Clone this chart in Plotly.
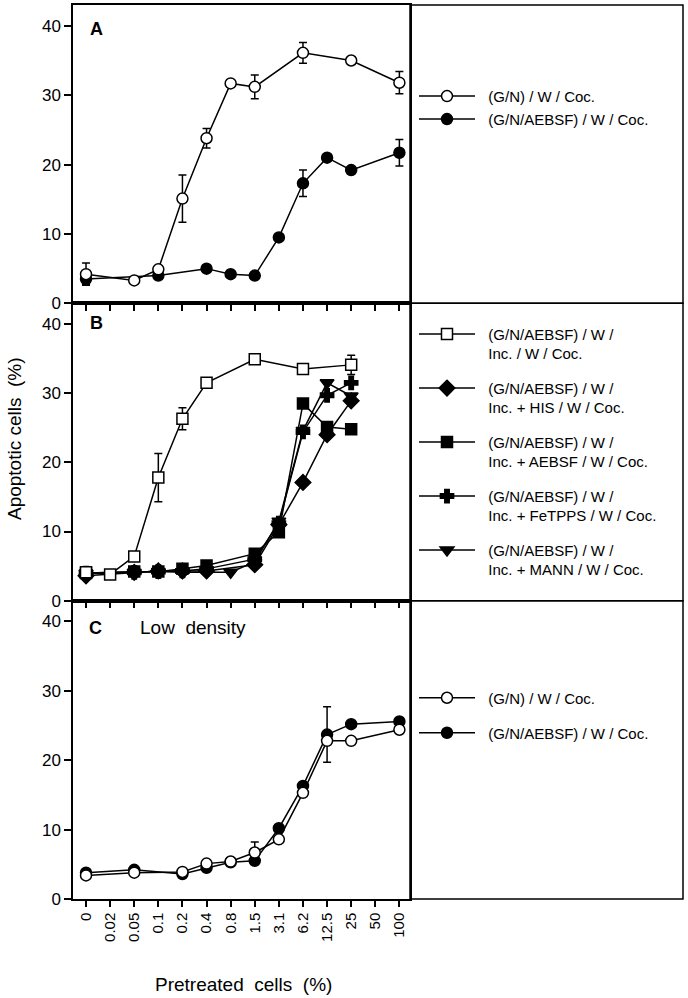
import plotly.graph_objects as go

# ---------------- data ----------------
cats = ["0", "0.02", "0.05", "0.1", "0.2", "0.4", "0.8", "1.5", "3.1", "6.2", "12.5", "25", "50", "100"]
y_ticks = [0, 10, 20, 30, 40]

# Panel A
a_open_x = ["0", "0.05", "0.1", "0.2", "0.4", "0.8", "1.5", "6.2", "25", "100"]
a_open_y = [4.2, 3.3, 4.9, 15.1, 23.8, 31.7, 31.2, 36.1, 35.0, 31.8]
a_open_err = [1.6, 0, 0, 3.4, 1.4, 0, 1.7, 1.5, 0, 1.6]
a_fill_x = ["0", "0.1", "0.4", "0.8", "1.5", "3.1", "6.2", "12.5", "25", "100"]
a_fill_y = [3.5, 4.0, 5.0, 4.2, 4.0, 9.5, 17.3, 21.0, 19.2, 21.7]
a_fill_err = [0.8, 0, 0, 0, 0, 0, 1.9, 0, 0, 1.9]

# Panel B
b_open_x = ["0", "0.02", "0.05", "0.1", "0.2", "0.4", "1.5", "6.2", "25"]
b_open_y = [4.1, 3.8, 6.4, 17.8, 26.3, 31.5, 34.9, 33.5, 34.1]
b_open_err = [0, 0, 0, 3.5, 1.6, 0, 0, 0, 1.4]
b_treat_x = ["0", "0.05", "0.1", "0.2", "0.4", "1.5", "3.1", "6.2", "12.5", "25"]
b_his_y = [3.6, 4.1, 4.3, 4.3, 4.3, 5.2, 11.0, 17.1, 24.0, 28.9]
b_aebsf_y = [4.0, 4.2, 4.2, 4.6, 5.1, 6.8, 9.9, 28.5, 25.1, 24.8]
b_fetpps_y = [4.0, 4.1, 4.2, 4.3, 4.6, 6.0, 11.2, 24.4, 29.7, 31.5]
b_mann_x = ["0", "0.05", "0.1", "0.2", "0.4", "0.8", "1.5", "3.1", "6.2", "12.5", "25"]
b_mann_y = [4.0, 4.1, 4.2, 4.1, 4.1, 4.1, 5.6, 11.5, 24.6, 31.5, 29.6]

# Panel C
c_x = ["0", "0.05", "0.2", "0.4", "0.8", "1.5", "3.1", "6.2", "12.5", "25", "100"]
c_open_y = [3.4, 3.8, 3.9, 5.1, 5.4, 6.7, 8.6, 15.3, 22.8, 22.8, 24.4]
c_open_err = [0, 0, 0, 0, 0, 1.5, 0, 0, 0, 0, 0]
c_fill_y = [3.8, 4.2, 3.6, 4.5, 5.3, 5.5, 10.2, 16.3, 23.7, 25.2, 25.6]
c_fill_err = [0, 0, 0, 0, 0, 0, 0, 0, 4.0, 0, 0]

SP = "\u00a0\u00a0"
lab_open = SP + "(G/N) / W / Coc."
lab_fill = SP + "(G/N/AEBSF) / W / Coc."
lab_b = [
    SP + "(G/N/AEBSF) / W /<br>" + SP + "Inc. / W / Coc.",
    SP + "(G/N/AEBSF) / W /<br>" + SP + "Inc. + HIS / W / Coc.",
    SP + "(G/N/AEBSF) / W /<br>" + SP + "Inc. + AEBSF / W / Coc.",
    SP + "(G/N/AEBSF) / W /<br>" + SP + "Inc. + FeTPPS / W / Coc.",
    SP + "(G/N/AEBSF) / W /<br>" + SP + "Inc. + MANN / W / Coc.",
]

# ---------------- geometry ----------------
W, H = 688, 998
ML, MR, MT, MB = 73, 278, 3, 99
PW, PH = W - ML - MR, H - MT - MB
def px2x(p):
    return (p - ML) / PW
def py2y(p):
    return (H - MB - p) / PH

domA = [py2y(302), 1.0]
domB = [py2y(600), py2y(302)]
domC = [0.0, py2y(600)]

FONT = "Liberation Sans, Arial, sans-serif"
LW = 1.5

def trace(x, y, name, symbol, fill, xa, ya, legend, rank, err=None, size=11):
    kw = {}
    if err is not None:
        kw["error_y"] = dict(type="data", array=err, visible=True, color="black",
                             thickness=LW, width=4)
    return go.Scatter(
        x=x, y=y, name=name, mode="lines+markers", xaxis=xa, yaxis=ya,
        legend=legend, legendrank=rank, legendgroup=name + legend,
        line=dict(color="black", width=LW),
        marker=dict(symbol=symbol, size=size, color="black" if fill else "white",
                    line=dict(color="black", width=LW)),
        **kw)

fig = go.Figure()
# Panel A (top)
fig.add_trace(trace(a_fill_x, a_fill_y, lab_fill, "circle", True, "x", "y", "legend", 2, a_fill_err))
fig.add_trace(trace(a_open_x, a_open_y, lab_open, "circle", False, "x", "y", "legend", 1, a_open_err))
# Panel B (middle)
fig.add_trace(trace(b_treat_x, b_his_y, lab_b[1], "diamond", True, "x2", "y2", "legend2", 2, size=12))
fig.add_trace(trace(b_treat_x, b_aebsf_y, lab_b[2], "square", True, "x2", "y2", "legend2", 3, size=11))
fig.add_trace(trace(b_treat_x, b_fetpps_y, lab_b[3], "cross", True, "x2", "y2", "legend2", 4, size=11))
fig.add_trace(trace(b_mann_x, b_mann_y, lab_b[4], "triangle-down", True, "x2", "y2", "legend2", 5, size=12))
fig.add_trace(trace(b_open_x, b_open_y, lab_b[0], "square", False, "x2", "y2", "legend2", 1, b_open_err, size=11))
# Panel C (bottom)
fig.add_trace(trace(c_x, c_fill_y, lab_fill, "circle", True, "x3", "y3", "legend3", 2, c_fill_err))
fig.add_trace(trace(c_x, c_open_y, lab_open, "circle", False, "x3", "y3", "legend3", 1, c_open_err))

xcommon = dict(type="category", categoryorder="array", categoryarray=cats,
               range=[-0.54, 13.44], showline=True, mirror=True, linecolor="black",
               linewidth=LW, ticks="outside", ticklen=6, tickwidth=LW, tickcolor="black",
               showgrid=False, zeroline=False, tickangle=-90,
               tickfont=dict(family=FONT, size=15, color="black"))
ycommon = dict(range=[0, 43], tickvals=y_ticks, showline=True, mirror=True, linecolor="black",
               linewidth=LW, ticks="outside", ticklen=7, tickwidth=LW, tickcolor="black",
               showgrid=False, zeroline=False,
               tickfont=dict(family=FONT, size=17, color="black"))

LEGX = px2x(414)
fig.update_layout(
    width=W, height=H,
    margin=dict(l=ML, r=MR, t=MT, b=MB, pad=0),
    paper_bgcolor="white", plot_bgcolor="white",
    font=dict(family=FONT, color="black"),
    xaxis=dict(xcommon, anchor="y", showticklabels=False),
    xaxis2=dict(xcommon, anchor="y2", showticklabels=False),
    xaxis3=dict(xcommon, anchor="y3", showticklabels=True),
    yaxis=dict(ycommon, domain=domA, anchor="x"),
    yaxis2=dict(ycommon, domain=domB, anchor="x2"),
    yaxis3=dict(ycommon, domain=domC, anchor="x3"),
    legend=dict(x=LEGX, y=py2y(78), xanchor="left", yanchor="top",
                font=dict(family=FONT, size=15, color="black"),
                itemwidth=56, tracegroupgap=0.5, bgcolor="rgba(0,0,0,0)"),
    legend2=dict(x=LEGX, y=py2y(316.5), xanchor="left", yanchor="top",
                 font=dict(family=FONT, size=15, color="black"), valign="top",
                 itemwidth=56, tracegroupgap=12, bgcolor="rgba(0,0,0,0)"),
    legend3=dict(x=LEGX, y=py2y(681), xanchor="left", yanchor="top",
                 font=dict(family=FONT, size=15, color="black"),
                 itemwidth=56, tracegroupgap=12.5, bgcolor="rgba(0,0,0,0)"),
    showlegend=True,
)

# Legend boxes on the right
for d in (domA, domB, domC):
    fig.add_shape(type="rect", xref="paper", yref="paper", x0=1, x1=px2x(683), y0=d[0], y1=d[1],
                  line=dict(color="black", width=LW), fillcolor="rgba(0,0,0,0)", layer="above")

# Panel labels and axis titles
ann = [
    dict(text="<b>A</b>", x=px2x(88), y=py2y(27), xanchor="left", yanchor="middle", size=18),
    dict(text="<b>B</b>", x=px2x(88), y=py2y(322), xanchor="left", yanchor="middle", size=18),
    dict(text="<b>C</b>", x=px2x(87), y=py2y(627), xanchor="left", yanchor="middle", size=18),
    dict(text="Low  density", x=px2x(138), y=py2y(627), xanchor="left", yanchor="middle", size=19),
    dict(text="Pretreated  cells  (%)", x=px2x(243), y=py2y(985), xanchor="center", yanchor="middle", size=19),
]
for a in ann:
    fig.add_annotation(text=a["text"], x=a["x"], y=a["y"], xref="paper", yref="paper",
                       xanchor=a["xanchor"], yanchor=a["yanchor"], showarrow=False,
                       font=dict(family=FONT, size=a["size"], color="black"))
fig.add_annotation(text="Apoptotic cells  (%)", x=px2x(14), y=py2y(438), xref="paper", yref="paper",
                   xanchor="center", yanchor="middle", textangle=-90, showarrow=False,
                   font=dict(family=FONT, size=19, color="black"))

fig.write_html("out.html", config={"displayModeBar": False},
               post_script="document.body.style.margin='0';document.body.style.overflow='hidden';")
